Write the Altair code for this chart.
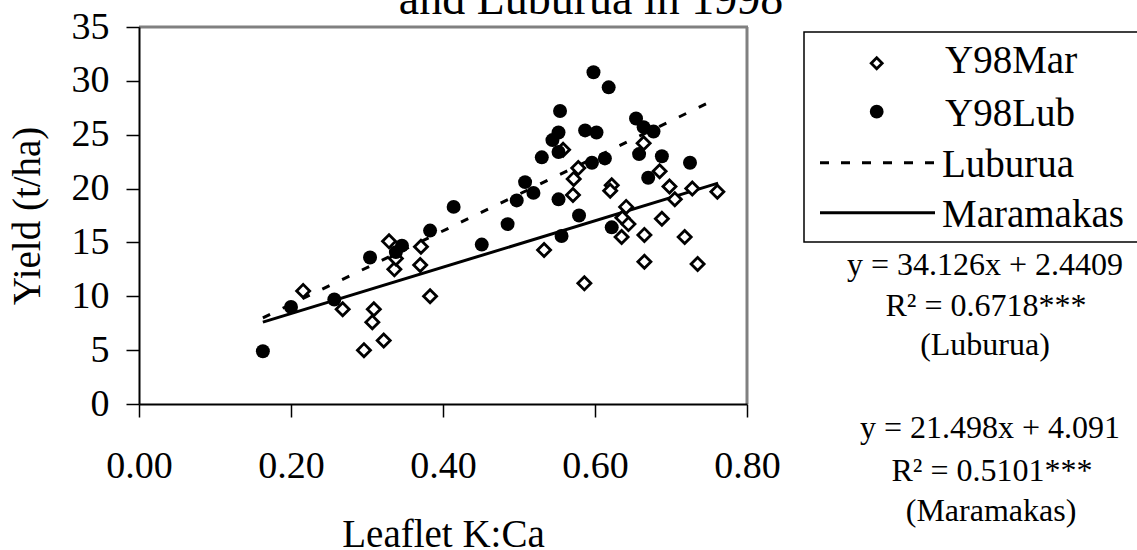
import altair as alt
import pandas as pd

# ---- data ----
mar_x = [0.216, 0.268, 0.296, 0.307, 0.309, 0.322, 0.329, 0.336, 0.338, 0.371, 0.370, 0.383,
         0.533, 0.558, 0.578, 0.572, 0.571, 0.586, 0.622, 0.620, 0.641, 0.636, 0.644, 0.635,
         0.664, 0.665, 0.665, 0.685, 0.698, 0.705, 0.688, 0.728, 0.718, 0.735, 0.761]
mar_y = [10.5, 8.8, 5.0, 7.6, 8.8, 5.9, 15.1, 12.5, 13.5, 14.6, 12.9, 10.0,
         14.3, 23.6, 21.9, 20.9, 19.4, 11.2, 20.3, 19.8, 18.3, 17.3, 16.7, 15.5,
         24.2, 15.7, 13.2, 21.6, 20.2, 19.0, 17.2, 20.0, 15.5, 13.0, 19.7]

lub_x = [0.163, 0.200, 0.257, 0.304, 0.338, 0.346, 0.383, 0.414, 0.451, 0.485, 0.497, 0.508,
         0.519, 0.530, 0.544, 0.552, 0.554, 0.552, 0.552, 0.556, 0.579, 0.587, 0.602, 0.598,
         0.618, 0.596, 0.613, 0.622, 0.654, 0.664, 0.677, 0.658, 0.688, 0.670, 0.725]
lub_y = [4.9, 9.0, 9.7, 13.6, 14.1, 14.7, 16.1, 18.3, 14.8, 16.7, 18.9, 20.6,
         19.6, 22.9, 24.5, 25.2, 27.2, 23.4, 19.0, 15.6, 17.5, 25.4, 25.2, 30.8,
         29.4, 22.4, 22.8, 16.4, 26.5, 25.7, 25.3, 23.2, 23.0, 21.0, 22.4]

trend_x = [0.163, 0.762]
lub_trend_y = [8.0, 28.4]
mar_trend_y = [7.6, 20.5]

x_ticks = [0.0, 0.2, 0.4, 0.6, 0.8]
y_ticks = [0, 5, 10, 15, 20, 25, 30, 35]

title_text = "and Luburua in 1998"
legend_labels = ["Y98Mar", "Y98Lub", "Luburua", "Maramakas"]
eq_lines = ["y = 34.126x + 2.4409", "R\u00b2 = 0.6718***", "(Luburua)",
            "y = 21.498x + 4.091", "R\u00b2 = 0.5101***", "(Maramakas)"]

FONT = "Liberation Serif"
W, H = 608, 377

df_mar = pd.DataFrame({"x": mar_x, "y": mar_y})
df_lub = pd.DataFrame({"x": lub_x, "y": lub_y})
df_tl = pd.DataFrame({"x": trend_x, "y": lub_trend_y})
df_tm = pd.DataFrame({"x": trend_x, "y": mar_trend_y})
one = pd.DataFrame({"a": [0]})

X = alt.X("x:Q", scale=alt.Scale(domain=[0, 0.8], nice=False, zero=False),
          axis=alt.Axis(values=x_ticks, format=".2f", grid=False, tickSize=13, tickWidth=1.5,
                        tickColor="black", domainColor="black", domainWidth=2,
                        labelFont=FONT, labelFontSize=38, labelColor="black",
                        labelBaseline="alphabetic", labelPadding=60, labelFlush=False,
                        labelOverlap=False, title="Leaflet K:Ca", titleFont=FONT,
                        titleFontSize=39, titleFontWeight="normal", titleColor="black",
                        titleX=W / 2, titleY=142, titleAlign="center",
                        titleBaseline="alphabetic", zindex=1))
Y = alt.Y("y:Q", scale=alt.Scale(domain=[0, 35], nice=False, zero=False),
          axis=alt.Axis(values=y_ticks, grid=False, tickSize=13, tickWidth=1.5,
                        tickColor="black", domainColor="black", domainWidth=2,
                        labelFont=FONT, labelFontSize=38, labelColor="black",
                        labelPadding=17, labelFlush=False, labelOverlap=False,
                        title="Yield (t/ha)", titleFont=FONT, titleFontSize=39,
                        titleFontWeight="normal", titleColor="black", titleAngle=270,
                        titleX=-100, titleY=H / 2, titleAlign="center",
                        titleBaseline="alphabetic", zindex=1))

mar = alt.Chart(df_mar).mark_point(shape="diamond", filled=True, fill="white", stroke="black",
                                   strokeWidth=2.8, size=170, opacity=1).encode(x=X, y=Y)
lub = alt.Chart(df_lub).mark_circle(size=195, color="black", opacity=1).encode(x=X, y=Y)
tl = alt.Chart(df_tl).mark_line(color="black", strokeWidth=3, strokeDash=[8, 14]).encode(x=X, y=Y)
tm = alt.Chart(df_tm).mark_line(color="black", strokeWidth=3).encode(x=X, y=Y)

border_top = alt.Chart(one).mark_rule(color="#808080", strokeWidth=3).encode(
    x=alt.value(0), x2=alt.value(W + 1), y=alt.value(0))
border_right = alt.Chart(one).mark_rule(color="#808080", strokeWidth=3).encode(
    x=alt.value(W), y=alt.value(0), y2=alt.value(H))


def txt(s, xv, yv, size, align="center"):
    return alt.Chart(one).mark_text(text=s, font=FONT, fontSize=size, align=align,
                                    baseline="alphabetic", color="black").encode(
        x=alt.value(xv), y=alt.value(yv))


title = txt(title_text, 452, -13, 46)

leg_box = alt.Chart(one).mark_rect(fill="white", stroke="black", strokeWidth=1.5).encode(
    x=alt.value(665), x2=alt.value(1010), y=alt.value(5), y2=alt.value(215))
leg_dia = alt.Chart(one).mark_point(shape="diamond", filled=True, fill="white", stroke="black",
                                    strokeWidth=2.8, size=120, opacity=1).encode(
    x=alt.value(737.7), y=alt.value(36.3))
leg_circ = alt.Chart(one).mark_circle(size=190, color="black", opacity=1).encode(
    x=alt.value(737.7), y=alt.value(84.7))
leg_dash = alt.Chart(one).mark_rule(color="black", strokeWidth=3, strokeDash=[9, 12]).encode(
    x=alt.value(681), x2=alt.value(796), y=alt.value(135.7))
leg_solid = alt.Chart(one).mark_rule(color="black", strokeWidth=3).encode(
    x=alt.value(681), x2=alt.value(796), y=alt.value(185.7))
leg_t = [txt(legend_labels[0], 806, 46, 39, "left"),
         txt(legend_labels[1], 806, 99, 39, "left"),
         txt(legend_labels[2], 803, 150, 39, "left"),
         txt(legend_labels[3], 803, 200, 39, "left")]

eq_pos = [(846, 248), (847, 289), (846, 328), (851, 411), (853, 454), (852, 494)]
eqs = [txt(s, p[0], p[1], 32) for s, p in zip(eq_lines, eq_pos)]

chart = alt.layer(
    border_top, border_right, tm, tl, mar, lub, title,
    leg_box, leg_dia, leg_circ, leg_dash, leg_solid, *leg_t, *eqs
).properties(
    width=W, height=H,
    padding={"left": 139, "top": 27, "right": 390, "bottom": 146},
    autosize=alt.AutoSizeParams(type="none"),
    background="white",
).configure_view(strokeWidth=0)

chart.save("out.html", embed_options={"renderer": "svg", "actions": False})
